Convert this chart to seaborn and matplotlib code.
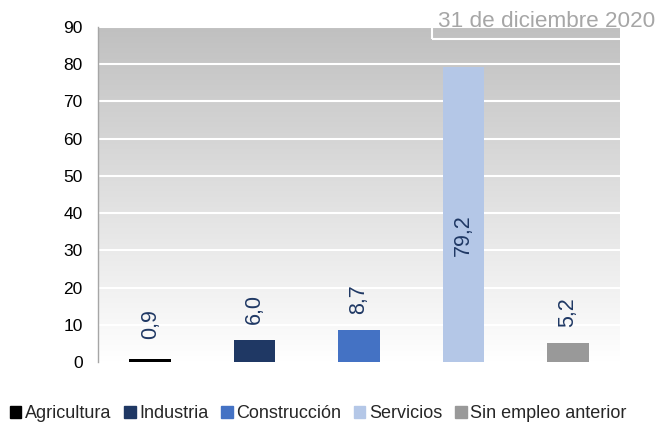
import matplotlib
matplotlib.use("Agg")
import matplotlib.pyplot as plt
import matplotlib.patches as mpatches
import numpy as np
import seaborn as sns

# data
categories = ["Agricultura", "Industria", "Construcción", "Servicios", "Sin empleo anterior"]
values = [0.9, 6.0, 8.7, 79.2, 5.2]
labels = ["0,9", "6,0", "8,7", "79,2", "5,2"]
colors = ["#000000", "#1f3864", "#4472c4", "#b4c7e7", "#999999"]
yticks = [0, 10, 20, 30, 40, 50, 60, 70, 80, 90]
date_text = "31 de diciembre 2020"

sns.set_style("white")
plt.rcParams["font.family"] = ["Liberation Sans", "DejaVu Sans"]

fig = plt.figure(figsize=(6.57, 4.26), dpi=100)
ax = fig.add_axes([98 / 657, 64 / 426, 522 / 657, 335 / 426])

# grey-to-white vertical gradient behind the bars
grad = np.linspace(1, 0, 256).reshape(-1, 1)
cmap = matplotlib.colors.LinearSegmentedColormap.from_list("g", ["#ffffff", "#c0c0c0"])
ax.imshow(grad, cmap=cmap, extent=(-0.5, len(categories) - 0.5, 0, 90),
          aspect="auto", zorder=0)

sns.barplot(x=categories, y=values, hue=categories, palette=colors, width=0.4,
            legend=False, ax=ax, zorder=3, saturation=1, linewidth=0, edgecolor="none")

ax.set_xlim(-0.5, len(categories) - 0.5)
ax.set_ylim(0, 90)
ax.set_yticks(yticks)
ax.yaxis.grid(True, color="white", linewidth=1.5, zorder=1)
ax.set_xticks([])
ax.set_xlabel("")
for s in ["top", "right", "bottom"]:
    ax.spines[s].set_visible(False)
ax.spines["left"].set_color("#a6a6a6")
ax.spines["left"].set_linewidth(1)
ax.tick_params(axis="y", direction="in", length=3, color="#a6a6a6", pad=11,
               labelsize=12.5, labelcolor="black")

# value labels
for i, (v, lab) in enumerate(zip(values, labels)):
    if v > 50:
        ax.text(i, v / 2, lab, rotation=90, ha="center", va="top",
                fontsize=15.5, color="#1f3864", zorder=5)
    else:
        off = 14 if v < 2 else 11
        ax.annotate(lab, (i, v), xytext=(0, off), textcoords="offset points",
                    rotation=90, ha="center", va="bottom", fontsize=15.5,
                    color="#1f3864", zorder=5)

# date box
fig.text(438 / 657, 1 - 27 / 426, date_text, ha="left", va="baseline",
         fontsize=16.2, color="#a6a6a6")
fig.patches.append(mpatches.Rectangle((432 / 657, 1 - 39 / 426), 0.5, 0.2,
                                      transform=fig.transFigure, fill=False,
                                      edgecolor="white", linewidth=1.5, zorder=10))

handles = [mpatches.Patch(color=c) for c in colors]
fig.legend(handles, categories, loc="center left", bbox_to_anchor=(3 / 657, 12 / 426),
           ncol=5, frameon=False, fontsize=13, handlelength=0.62, handleheight=0.62,
           handletextpad=0.2, columnspacing=0.72, borderaxespad=0)

fig.savefig("out.png", dpi=100)
